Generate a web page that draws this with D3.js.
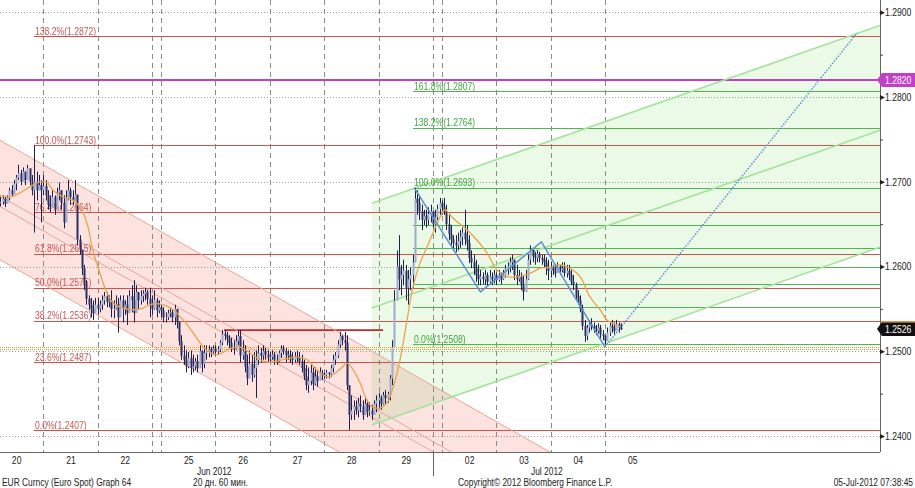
<!DOCTYPE html>
<html><head><meta charset="utf-8">
<script src="https://cdn.jsdelivr.net/npm/d3@7"></script>
<style>
html,body{margin:0;padding:0;background:#fff;}
svg{display:block;font-family:'Liberation Sans',Arial,sans-serif;}
</style></head><body>
<svg id="c" width="915" height="488"></svg>
<script>
// ---------- DATA (prices in pips above 1.2400, hourly bars) ----------
const firstHour = -19;
const barHigh = [282,284,282,284,293,296,302,308,320,314,317,312,320,314,308,343,312,308,302,
308,302,290,284,290,284,293,299,290,284,290,302,293,290,302,278,237,219,202,184,166,163,160,163,
163,160,166,170,170,166,172,160,166,163,166,166,160,166,172,178,184,178,170,172,172,175,172,175,
166,172,163,160,
155,152,146,149,152,149,155,146,134,119,107,101,99,101,96,92,96,107,101,107,107,107,105,107,
107,106,113,125,125,123,119,116,113,119,125,125,113,107,96,101,96,99,101,107,104,107,104,101,
99,101,99,96,101,107,107,104,101,101,99,99,101,99,96,90,84,81,84,81,81,78,81,78,
75,78,75,84,96,99,113,123,119,123,119,60,48,42,42,45,48,42,45,42,40,37,42,48,
51,48,52,54,52,72,113,172,219,237,202,208,202,196,199,214,293,290,284,273,267,267,270,273,
264,267,273,281,
278,281,273,261,249,237,237,240,243,246,267,249,237,219,214,208,202,196,193,196,193,196,193,196,
193,196,193,196,202,205,211,214,208,202,196,193,190,196,214,225,219,217,219,217,214,214,211,208,
205,202,202,205,202,205,205,202,202,196,190,181,172,166,155,137,131,137,139,134,131,133,131,125,
119,128,134,137,134,137,134,133];
const barLow = [271,273,270,275,278,282,287,290,302,296,302,296,305,296,284,240,278,290,252,
284,278,267,264,273,261,270,278,267,245,261,278,273,273,278,225,214,190,172,155,149,140,137,147,
143,146,149,155,152,152,140,139,149,122,143,134,143,131,149,146,134,160,149,155,158,160,155,140,
143,149,140,145,
140,134,134,137,140,134,131,127,107,90,84,75,80,72,75,78,75,84,75,80,90,93,93,96,
94,96,99,107,113,107,104,99,96,101,107,87,90,75,60,72,64,69,45,84,87,90,90,87,
87,90,84,84,87,92,96,87,90,86,84,87,87,84,75,66,54,51,60,54,60,58,66,66,
68,68,68,70,75,84,92,104,107,101,54,7,19,19,25,22,28,19,25,22,24,19,25,28,
33,31,37,37,39,42,60,107,160,172,166,178,160,155,172,175,205,261,255,243,249,246,249,252,
246,240,255,261,
261,261,243,231,225,219,217,219,222,225,225,219,204,198,190,182,178,178,179,178,177,179,178,180,
178,182,179,184,187,190,193,196,184,178,182,172,160,175,184,202,205,202,205,205,202,199,190,184,
187,190,187,193,190,193,188,187,184,178,172,160,155,146,125,111,113,122,125,122,119,121,115,113,
108,113,118,122,119,125,122,125];
const barClose = [276,280,274,281,290,285,298,305,310,300,312,302,316,300,290,300,290,296,290,
295,284,273,270,282,268,287,290,275,252,280,290,282,278,285,232,220,198,178,162,155,150,145,155,
150,155,160,165,158,160,150,150,156,140,160,150,155,145,165,160,145,170,160,165,168,170,162,155,
150,160,148,152,
148,140,140,145,146,140,150,135,112,95,90,82,92,80,82,88,80,100,85,98,100,102,100,103,
100,102,110,120,118,115,110,105,102,112,118,95,100,82,68,85,72,80,90,98,95,100,96,93,
93,96,90,88,98,103,100,95,96,92,90,94,92,88,80,70,60,65,75,62,70,65,74,72,
72,75,73,80,90,95,108,118,113,110,60,25,30,35,30,38,35,25,38,28,30,25,38,42,
45,38,48,45,50,68,105,160,200,185,190,195,175,185,190,205,280,275,265,255,260,255,262,265,
250,258,268,275,
270,265,250,238,232,228,225,230,235,240,232,228,210,205,198,190,185,188,185,190,182,188,185,190,
184,190,185,190,198,200,205,208,190,185,188,178,170,185,208,220,212,210,215,210,208,205,198,195,
198,195,192,200,196,198,192,195,190,182,178,165,160,150,130,118,128,132,130,126,124,128,120,118,
112,122,130,128,124,132,128,126];

// moving average (orange) read at these hours
const maHours = [-19,-14.7,-10.3,-5.9,-1.5,1.6,4.3,8.7,13.1,16.2,19.3,21.9,25,28.1,30.8,35.2,39.6,44,48.4,52.8,57.3,61.7,66.1,69.2,72.3,76.7,82.4,86.8,91.3,95.7,100.1,105.8,112,116.4,120.8,125.3,128.8,131.9,134.1,136.8,139.8,142.9,145.6,148.7,151.8,154.4,157.5,160.6,163.2,166.3,169.4,172.1,175.1,177.3,180.9,187.1,191.5,195.9,200.3,204.8,209.2,214.9,219.3,223.7,228.1,232.6,237,241.4,245.8,248.8,251.5,254.6];
const maPips = [284,282,287,294,300,299,290,282,278,270,251,219,192,169,157,151,149,151,156,155,149,137,122,110,101,96,103,105,98,90,87,90,93,90,78,70,74,81,86,78,63,42,34,33,39,57,90,137,176,204,223,240,258,267,257,243,231,216,196,188,188,192,198,199,202,198,188,164,149,137,133,129];

// axes
const dayLabels = ["20","21","22","25","26","27","28","29","02","03","04","05"];
const dayStartHours = [-24,0,24,52,76,100,124,148,176,200,224,248];
const gridHours = [0,24,48,52,76,100,124,148,172,176,200,224,248];
const priceTicks = [1.24,1.25,1.26,1.27,1.28,1.29];
const minorTicks = [1.245,1.255,1.265,1.275,1.285];

// fibonacci retracements
const redFibStartHour = -4.1;
const redFibLevels = ["0.0%","23.6%","38.2%","50.0%","61.8%","76.4%","100.0%","138.2%"];
const redFibValues = [1.2407,1.2487,1.2536,1.2575,1.2615,1.2664,1.2743,1.2872];
const greenFibStartHour = 163.2;
const greenFibLevels = ["0.0%","23.6%","38.2%","50.0%","61.8%","76.4%","100.0%","138.2%","161.8%"];
const greenFibValues = [1.2508,1.2552,1.2579,1.2600,1.2622,1.2649,1.2693,1.2764,1.2807];
const greenFibLabeled = [true,false,false,false,false,false,true,true,true];

// channels (two end points each: hours, prices)
const redChannelHours = [-19.12, 330];
const redUpper = [1.2749, 1.2220];
const redMidA = [1.2683, 1.2154];
const redMidB = [1.2671, 1.2142];
const redLower = [1.2608, 1.2079];
const greenChannelHours = [145.0, 369.4];
const greenUpper = [1.26746, 1.28844];
const greenMid = [1.2551, 1.27608];
const greenLower = [1.2413, 1.26228];

// trend drawings
const zigzagHours = [163.7, 193, 219.9, 248];
const zigzagPrices = [1.2693, 1.2570, 1.2629, 1.2505];
const projHours = [248, 359.2];
const projPrices = [1.2505, 1.28755];
const resistHours = [79.8, 150];
const resistPrice = 1.2525;
const magentaPrice = 1.2820;
const orangeLevel = 1.2504;
const lastPrice = 1.2526;

// ---------- DRAW ----------
const PR = 880, PB = 452;
const svg = d3.select('#c');
const x = d3.scaleLinear().domain([-19.12, 369.4]).range([0, PR]);
const y = d3.scaleLinear().domain([1.238112, 1.291452]).range([PB, 0]);
const P = p => 1.24 + p / 10000;
// imitate Bloomberg's narrow face: squeeze horizontally around each text's anchor
function narrow(sel, f) {
  f = f || 0.82;
  sel.each(function () {
    const ax = +(this.getAttribute('x') || 0), ay = +(this.getAttribute('y') || 0);
    this.setAttribute('transform', `translate(${ax},${ay}) scale(${f},1) translate(${-ax},${-ay})`);
  });
}

svg.append('rect').attr('width',915).attr('height',488).attr('fill','#fff');
svg.append('defs').append('clipPath').attr('id','clip')
  .append('rect').attr('width',PR).attr('height',PB);
const plot = svg.append('g').attr('clip-path','url(#clip)');

function band(hours, up, lo) {
  return [[x(hours[0]),y(up[0])],[x(hours[1]),y(up[1])],[x(hours[1]),y(lo[1])],[x(hours[0]),y(lo[0])]];
}
const poly = d3.line();
plot.append('path').attr('d', poly(band(redChannelHours, redUpper, redLower)) + 'Z').attr('fill','#fde3e0');
plot.append('path').attr('d', poly(band(greenChannelHours, greenUpper, greenLower)) + 'Z')
  .attr('fill','#ebf9e7').style('mix-blend-mode','multiply');

// gridlines
plot.selectAll('.hg').data(priceTicks).enter().append('line')
  .attr('x1',0).attr('x2',PR).attr('y1',d=>Math.round(y(d))+0.5).attr('y2',d=>Math.round(y(d))+0.5)
  .attr('stroke','#9a9a9a').attr('stroke-dasharray','1,2');
plot.selectAll('.vg').data(gridHours).enter().append('line')
  .attr('x1',d=>Math.round(x(d))+0.5).attr('x2',d=>Math.round(x(d))+0.5).attr('y1',0).attr('y2',PB)
  .attr('stroke','#8a8a8a').attr('stroke-dasharray','5,4');

// fib lines
function hline(g, h0, price, color, w) {
  g.append('line').attr('x1',x(h0)).attr('x2',PR)
    .attr('y1',Math.round(y(price))+0.5).attr('y2',Math.round(y(price))+0.5)
    .attr('stroke',color).attr('stroke-width',w);
}
redFibValues.forEach(v => hline(plot, redFibStartHour, v, '#c9554f', 1.2));
greenFibValues.forEach(v => hline(plot, greenFibStartHour, v, '#52b552', 1.2));

// magenta level
plot.append('line').attr('x1',0).attr('x2',PR).attr('y1',y(magentaPrice)).attr('y2',y(magentaPrice))
  .attr('stroke','#c23fc8').attr('stroke-width',2);
// orange dotted level
[0, 2].forEach(o => plot.append('line').attr('x1',0).attr('x2',PR)
  .attr('y1',Math.round(y(orangeLevel))-0.5+o).attr('y2',Math.round(y(orangeLevel))-0.5+o)
  .attr('stroke','#e3a02e').attr('stroke-width',1.2).attr('stroke-dasharray','1,1'));
// resistance segment
plot.append('line').attr('x1',x(resistHours[0])).attr('x2',x(resistHours[1]))
  .attr('y1',y(resistPrice)).attr('y2',y(resistPrice)).attr('stroke','#c0282a').attr('stroke-width',1.8);

// channel lines
function seg(hours, vals, color, w) {
  plot.append('line').attr('x1',x(hours[0])).attr('y1',y(vals[0])).attr('x2',x(hours[1])).attr('y2',y(vals[1]))
    .attr('stroke',color).attr('stroke-width',w);
}
[redUpper, redMidA, redMidB, redLower].forEach(v => seg(redChannelHours, v, '#eba396', 1));
[greenUpper, greenMid, greenLower].forEach(v => seg(greenChannelHours, v, '#a3e49b', 1.6));

// fib labels
const lab = plot.append('g').style('font-size','10.5px');
redFibValues.forEach((v,i) => lab.append('text').attr('x',x(redFibStartHour)+1).attr('y',y(v)-1.5)
  .attr('fill','#c9554f').text(redFibLevels[i] + '(' + v.toFixed(4) + ')'));
greenFibValues.forEach((v,i) => { if (greenFibLabeled[i]) lab.append('text').attr('x',x(greenFibStartHour)+1).attr('y',y(v)-1.5)
  .attr('fill','#3fa83f').text(greenFibLevels[i] + '(' + v.toFixed(4) + ')'); });
narrow(lab.selectAll('text'));

// bars
const bars = barHigh.map((h,i) => ({h: firstHour + i, hi: P(h), lo: P(barLow[i]), cl: P(barClose[i]), op: P(i ? barClose[i-1] : barClose[0])}));
const bg = plot.append('g');
bars.forEach(b => {
  const cx = Math.round(x(b.h));
  bg.append('line').attr('x1',cx+0.5).attr('x2',cx+0.5).attr('y1',y(b.hi)).attr('y2',y(b.lo))
    .attr('stroke','#1d2152').attr('stroke-width',1);
  const t = Math.min(y(b.op), y(b.cl)), hgt = Math.max(1, Math.abs(y(b.op) - y(b.cl)));
  bg.append('rect').attr('x',cx-0.5).attr('y',t).attr('width',2).attr('height',hgt)
    .attr('fill', b.cl >= b.op ? '#9fabcd' : '#2b3064');
});

// moving average
const ma = maHours.map((h,i) => [x(h), y(P(maPips[i]))]);
plot.append('path').attr('d', d3.line().curve(d3.curveCatmullRom)(ma))
  .attr('fill','none').attr('stroke','#eba24c').attr('stroke-width',1.3);

// zigzag + projection
plot.append('path').attr('d', d3.line()(zigzagHours.map((h,i)=>[x(h),y(zigzagPrices[i])])))
  .attr('fill','none').attr('stroke','#5b90d2').attr('stroke-width',1.5);
plot.append('path').attr('d', d3.line()(projHours.map((h,i)=>[x(h),y(projPrices[i])])))
  .attr('fill','none').attr('stroke','#5b90d2').attr('stroke-width',1.5).attr('stroke-dasharray','1.5,1.5');

// frame
svg.append('line').attr('x1',PR+0.5).attr('x2',PR+0.5).attr('y1',0).attr('y2',PB).attr('stroke','#666');
svg.append('line').attr('x1',0).attr('x2',PR).attr('y1',PB+0.5).attr('y2',PB+0.5).attr('stroke','#666');

// right axis
const ya = svg.append('g').attr('transform',`translate(${PR},0)`)
  .call(d3.axisRight(y).tickValues(priceTicks).tickFormat(d3.format('.4f')).tickSize(0).tickPadding(5));
ya.select('.domain').remove();
ya.selectAll('text').attr('font-family',null).style('font-size','10.5px').attr('fill','#222');
narrow(ya.selectAll('text'));
ya.selectAll('.tick').append('path').attr('d','M0,-2.5L5,0L0,2.5Z').attr('fill','#222');
const ym = svg.append('g').attr('transform',`translate(${PR},0)`)
  .call(d3.axisRight(y).tickValues(minorTicks).tickFormat('').tickSize(3));
ym.select('.domain').remove();
ym.selectAll('line').attr('stroke','#444');

// price tags
function tag(price, fill, label, topColor) {
  const yc = Math.round(y(price));
  const g = svg.append('g');
  g.append('path').attr('d',`M${PR-3},${yc}L${PR+2},${yc-7}L915,${yc-7}L915,${yc+7}L${PR+2},${yc+7}Z`).attr('fill',fill);
  if (topColor) g.append('line').attr('x1',PR+1).attr('x2',915).attr('y1',yc-7).attr('y2',yc-7).attr('stroke',topColor).attr('stroke-width',1.5);
  const t = g.append('text').attr('x',PR+5).attr('y',yc+4).attr('fill','#fff').style('font-size','10.5px').text(label);
  narrow(t);
}
tag(magentaPrice, '#c23fc8', magentaPrice.toFixed(4));
tag(lastPrice, '#111', lastPrice.toFixed(4), '#c8782a');

// bottom axis
const xa = svg.append('g').attr('transform',`translate(0,${PB})`)
  .call(d3.axisBottom(x).tickValues(dayStartHours.map(h=>h+12)).tickFormat((d,i)=>dayLabels[i]).tickSize(0).tickPadding(5));
xa.select('.domain').remove();
xa.selectAll('text').attr('font-family',null).style('font-size','10.5px').attr('fill','#222');
narrow(xa.selectAll('text'));

svg.append('line').attr('x1',Math.round(x(172))+0.5).attr('x2',Math.round(x(172))+0.5).attr('y1',PB).attr('y2',476).attr('stroke','#666');
const tx = svg.append('g').style('font-size','10.5px').attr('fill','#222');
tx.append('text').attr('x',197).attr('y',475.5).text('Jun 2012');
tx.append('text').attr('x',531).attr('y',475.5).text('Jul 2012');
tx.append('text').attr('x',2).attr('y',486.5).text('EUR Curncy (Euro Spot) Graph 64');
tx.append('text').attr('x',193).attr('y',486.5).text('20 дн. 60 мин.');
tx.append('text').attr('x',458).attr('y',486.5).text('Copyright\u00a9 2012 Bloomberg Finance L.P.');
tx.append('text').attr('x',913).attr('y',486.5).attr('text-anchor','end').text('05-Jul-2012 07:38:45');
narrow(tx.selectAll('text'), 0.8);
</script>
</body></html>
